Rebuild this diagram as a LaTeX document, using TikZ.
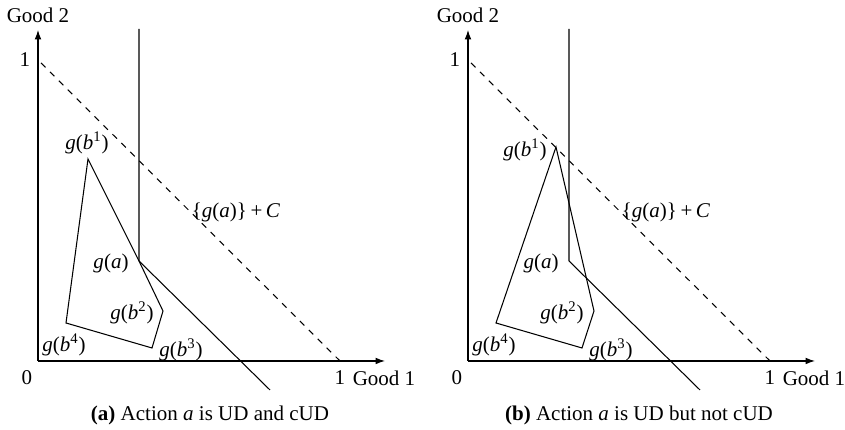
\documentclass[tikz,border=0pt]{standalone}
\usepackage{fontspec}
\setmainfont{Liberation Serif}
\usetikzlibrary{arrows.meta}
\newcommand{\gb}[1]{\textit{g}(\textit{b}\textsuperscript{#1})}
\newcommand{\ga}{\textit{g}(\textit{a})}
\begin{document}
\begin{tikzpicture}[x=0.476pt,y=0.476pt,line width=0.5pt,
  ax/.style={-{Latex[length=4.5pt,width=3.2pt]}},
  lab/.style={inner sep=0pt,font=\fontsize{10}{12}\selectfont}]
\useasboundingbox (0,0) rectangle (845,430);
% ---------- panel (a)
\begin{scope}[shift={(38,69)}]
\coordinate (aO) at (0,0);
\coordinate (aY) at (0,331);
\coordinate (aX) at (347,0);
\coordinate (aD1) at (3,298);
\coordinate (aD2) at (302,0);
\coordinate (aT) at (101,332);
\coordinate (aga) at (101,100);
\coordinate (aE) at (232,-29);
\coordinate (ab1) at (50,202);
\coordinate (ab2) at (125,50);
\coordinate (ab3) at (114,13);
\coordinate (ab4) at (28,38);
\draw[ax] (aO) -- (aY);
\draw[ax] (aO) -- (aX);
\draw[dashed] (aD1) -- (aD2);
\draw (aT) -- (aga) -- (aE);
\draw (ab1) -- (aga) -- (ab2) -- (ab3) -- (ab4) -- cycle;
\node[lab] (aLb1) at (49,218) {\gb{1}};
\node[lab] (aLga) at (73,98) {\ga};
\node[lab] (aLb2) at (94,48) {\gb{2}};
\node[lab] (aLb3) at (143,11) {\gb{3}};
\node[lab] (aLb4) at (26,16) {\gb{4}};
\node[lab] (aLC) at (198,149) {\{\ga\}\,+\,\textit{C}};
\node[lab] (aLG2) at (0,346) {Good 2};
\node[lab] (aL1y) at (-13,301) {1};
\node[lab] (aL0) at (-11,-17) {0};
\node[lab] (aL1x) at (302,-17) {1};
\node[lab] (aLG1) at (346,-17) {Good 1};
\node[lab] (aCap) at (172,-54) {\textbf{(a)} Action \textit{a} is UD and cUD};
\end{scope}
% ---------- panel (b)
\begin{scope}[shift={(468,69)}]
\coordinate (bO) at (0,0);
\coordinate (bY) at (0,331);
\coordinate (bX) at (347,0);
\coordinate (bD1) at (3,298);
\coordinate (bD2) at (302,0);
\coordinate (bT) at (101,332);
\coordinate (bga) at (101,100);
\coordinate (bE) at (232,-29);
\coordinate (bb1) at (88,214);
\coordinate (bb2) at (126,50);
\coordinate (bb3) at (114,13);
\coordinate (bb4) at (28,38);
\draw[ax] (bO) -- (bY);
\draw[ax] (bO) -- (bX);
\draw[dashed] (bD1) -- (bD2);
\draw (bT) -- (bga) -- (bE);
\draw (bb1) -- (bb2) -- (bb3) -- (bb4) -- cycle;
\node[lab] (bLb1) at (57,211) {\gb{1}};
\node[lab] (bLga) at (73,98) {\ga};
\node[lab] (bLb2) at (94,48) {\gb{2}};
\node[lab] (bLb3) at (143,11) {\gb{3}};
\node[lab] (bLb4) at (26,16) {\gb{4}};
\node[lab] (bLC) at (198,149) {\{\ga\}\,+\,\textit{C}};
\node[lab] (bLG2) at (0,346) {Good 2};
\node[lab] (bL1y) at (-13,301) {1};
\node[lab] (bL0) at (-11,-17) {0};
\node[lab] (bL1x) at (302,-17) {1};
\node[lab] (bLG1) at (346,-17) {Good 1};
\node[lab] (bCap) at (171,-54) {\textbf{(b)} Action \textit{a} is UD but not cUD};
\end{scope}
\end{tikzpicture}
\end{document}
